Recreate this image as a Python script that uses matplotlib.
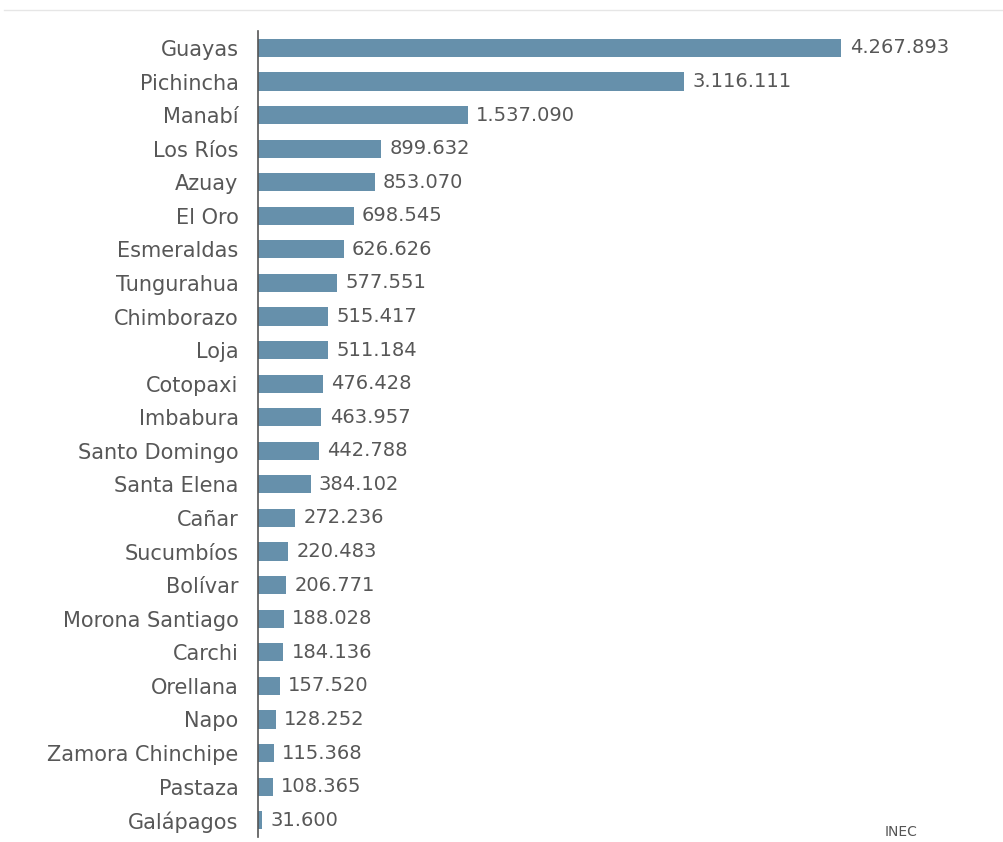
import matplotlib
matplotlib.use("Agg")
import matplotlib.pyplot as plt
from matplotlib.lines import Line2D

provincias = [
    "Guayas", "Pichincha", "Manabí", "Los Ríos", "Azuay", "El Oro",
    "Esmeraldas", "Tungurahua", "Chimborazo", "Loja", "Cotopaxi", "Imbabura",
    "Santo Domingo", "Santa Elena", "Cañar", "Sucumbíos", "Bolívar",
    "Morona Santiago", "Carchi", "Orellana", "Napo", "Zamora Chinchipe",
    "Pastaza", "Galápagos",
]
poblacion = [
    4267893, 3116111, 1537090, 899632, 853070, 698545,
    626626, 577551, 515417, 511184, 476428, 463957,
    442788, 384102, 272236, 220483, 206771,
    188028, 184136, 157520, 128252, 115368,
    108365, 31600,
]
fuente = "INEC"

BAR_COLOR = "#6690ab"
TEXT_COLOR = "#575757"
plt.rcParams["font.family"] = ["DejaVu Sans"]


def miles(v):
    # thousands separated with dots
    return f"{v:,}".replace(",", ".")


fig = plt.figure(figsize=(10.04, 8.42), dpi=100)
ax = fig.add_axes([0.257, 0.006, 0.738, 0.957])

y = list(range(len(provincias)))
ax.barh(y, poblacion, height=0.54, color=BAR_COLOR)
for yi, v in zip(y, poblacion):
    ax.text(v + 60000, yi, miles(v), va="center", ha="left",
            fontsize=14, color=TEXT_COLOR)

ax.set_ylim(len(provincias) - 0.5, -0.5)
ax.set_xlim(0, 5.42e6)
ax.set_yticks(y)
ax.set_yticklabels(provincias, fontsize=15, color=TEXT_COLOR)
ax.tick_params(axis="y", length=0, pad=14)
ax.set_xticks([])
for side in ("top", "right", "bottom"):
    ax.spines[side].set_visible(False)
ax.spines["left"].set_color("#555555")
ax.spines["left"].set_linewidth(1.2)

fig.text(0.897, 0.004, fuente, fontsize=10, color="#555555",
         ha="center", va="bottom")

# thin rule along the top edge
fig.add_artist(Line2D([0.004, 1.0], [0.988, 0.988], color="#e6e6e6",
                      linewidth=1.0, transform=fig.transFigure))

fig.savefig("out.png", dpi=100)
